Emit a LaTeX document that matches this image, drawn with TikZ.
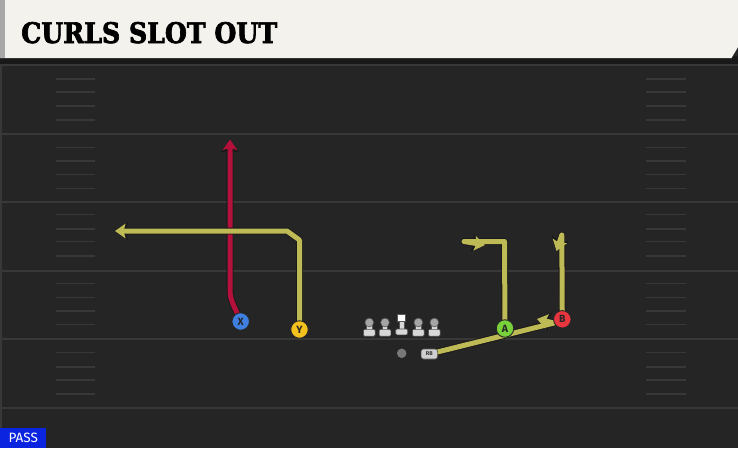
\documentclass[tikz,border=0pt]{standalone}
\usepackage{fontspec}
\usepackage{graphicx}
\usetikzlibrary{arrows.meta}
\newfontfamily\titlefont{DejaVu Serif}[BoldFeatures={FakeBold=2.5}]
\newfontfamily\uifont{Fira Sans}
\definecolor{fieldbg}{HTML}{252525}
\definecolor{bandcol}{HTML}{191919}
\definecolor{linecol}{HTML}{383838}
\definecolor{headcol}{HTML}{F4F2EC}
\definecolor{stripcol}{HTML}{A8A8A8}
\definecolor{routeyel}{HTML}{BEBA55}
\definecolor{routered}{HTML}{B3113B}
\definecolor{xblue}{HTML}{3F7FE0}
\definecolor{yyel}{HTML}{F4C21F}
\definecolor{agreen}{HTML}{78D13A}
\definecolor{bred}{HTML}{E8363F}
\definecolor{passblue}{HTML}{0A24E0}
\definecolor{lmhead}{HTML}{A5A5A5}
\definecolor{lmbody}{HTML}{D8D8D8}
\definecolor{lmedge}{HTML}{555555}
\definecolor{qbgray}{HTML}{787878}
\definecolor{rbgray}{HTML}{CFCFCF}
\pgfdeclarelayer{field}
\pgfdeclarelayer{routes}
\pgfsetlayers{field,routes,main}
\newcommand\playroute[2]{%
  \draw[#1,routeedge] #2;
  \draw[routecore,#1] #2;}
\begin{document}
\begin{tikzpicture}[x=1pt,y=-1pt,
  yardline/.style={draw=linecol, line width=2pt},
  hashmark/.style={draw=linecol, line width=1.6pt},
  player/.style={circle, draw=black!85, line width=0.9pt, minimum size=17.5pt, inner sep=0pt,
    text=black!85, font=\uifont\bfseries\fontsize{10.5}{10.5}\selectfont},
  routeedge/.style={draw=black!90, line width=6.8pt, line join=round},
  routecore/.style={line width=5pt, line join=round},
  tipped/.style={-{Stealth[length=4pt 1.3, width=5pt 1.9, inset=2pt]}},
  rbbox/.style={rounded corners=2.5pt, fill=rbgray, draw=lmedge, line width=0.6pt,
    minimum width=16.5pt, minimum height=10pt, inner sep=0pt, text=black!80,
    font=\uifont\bfseries\fontsize{5.5}{5.5}\selectfont}]
\useasboundingbox (0,0) rectangle (738,448);
\begin{pgfonlayer}{field}
  \fill[fieldbg] (0,0) rectangle (738,448);
  \fill[bandcol] (0,56) rectangle (738,64);
  \foreach \y in {65,133.5,202,270.5,339,408}
    \draw[yardline] (0,\y) -- (738,\y);
  \foreach \y in {79,92,106,120,147.5,161,174.5,188.5,214.5,229,241.5,256,283.5,297.5,311,324.5,352.5,367,380,394}{
    \draw[hashmark] (56,\y) -- (95,\y);
    \draw[hashmark] (646,\y) -- (686,\y);}
  \draw[linecol, line width=1.5pt] (0.75,64) -- (0.75,448);
\end{pgfonlayer}
% header
\fill[headcol] (0,0) -- (738,0) -- (738,47) -- (731.5,58) -- (0,58) -- cycle;
\fill[stripcol] (0,0) rectangle (5,58);
\node[anchor=base west, inner sep=0pt] (title) at (21,43)
  {\resizebox{256pt}{21pt}{\titlefont\bfseries CURLS SLOT OUT}};
% pass tag
\node[fill=passblue, anchor=south west, minimum width=46pt, minimum height=20pt, inner sep=0pt,
  text=white, font=\uifont\fontsize{13.5}{13.5}\selectfont] (pass) at (0,448) {PASS};
% offensive line
\foreach \x in {369.3,385,418.3,434.3}{
  \fill[lmbody, draw=lmedge, line width=0.6pt] (\x-2.6,323) rectangle (\x+2.6,331);
  \fill[lmhead, draw=lmedge, line width=0.6pt] (\x,322.5) circle (4.4);
  \fill[lmbody, draw=lmedge, line width=0.6pt, rounded corners=1.2pt] (\x-5.8,329.3) rectangle (\x+5.8,336.2);
}
\fill[lmbody, draw=lmedge, line width=0.6pt] (399.1,320) rectangle (404.3,330);
\fill[white, draw=lmedge, line width=0.6pt] (397.5,313.8) rectangle (405.7,321.7);
\fill[lmbody, draw=lmedge, line width=0.6pt, rounded corners=1.2pt] (395.7,329) rectangle (407.7,334.8);
% backs
\node[circle, fill=qbgray, minimum size=9.5pt, inner sep=0pt] (QB) at (401.7,353.3) {};
\node[rbbox] (RB) at (429.3,354) {RB};
% receivers
\node[player, fill=xblue] (X) at (240.7,321.5) {X};
\node[player, fill=yyel] (Y) at (299.5,329.5) {Y};
\node[player, fill=agreen] (A) at (505,328.5) {A};
\node[player, fill=bred] (B) at (562.3,319.3) {B};
\coordinate (xend) at (230,139.5);
\coordinate (yend) at (115,231);
\coordinate (aend) at (485,245);
\coordinate (bend) at (556.5,251);
\coordinate (rbend) at (537,319);
\begin{pgfonlayer}{routes}
  \playroute{draw=routered, tipped}{(X.center) .. controls (235,307) and (230,301) .. (230,290) -- (xend)}
  \playroute{draw=routeyel, tipped}{(Y.center) -- (299.5,240) -- (287,231) -- (yend)}
  \playroute{draw=routeyel, tipped}{(A.center) -- (504.5,241.5) -- (464,241.5) -- (aend)}
  \playroute{draw=routeyel, tipped}{(B.center) -- (561.8,235) -- (bend)}
  \playroute{draw=routeyel, tipped}{(RB.center) -- (554,323) -- (rbend)}
\end{pgfonlayer}
\end{tikzpicture}
\end{document}
